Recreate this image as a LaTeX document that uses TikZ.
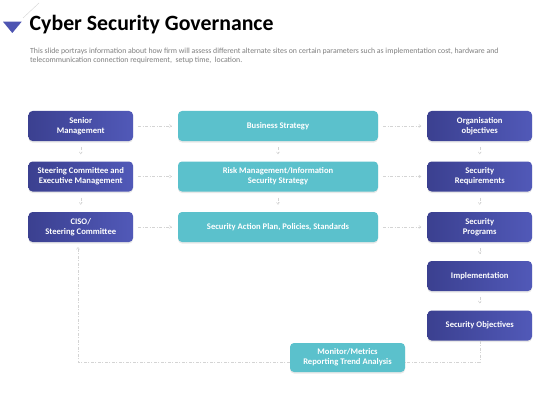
\documentclass[tikz,border=0pt]{standalone}
\usepackage{fontspec}
\setmainfont{Carlito}
\usetikzlibrary{arrows.meta,shadows}
\definecolor{navyL}{HTML}{3B4090}
\definecolor{navyR}{HTML}{5159B8}
\definecolor{tealbox}{HTML}{5BC1CC}
\definecolor{linegray}{HTML}{D4D4D4}
\definecolor{descgray}{HTML}{7F7F7F}
\tikzset{
  boxbase/.style={rounded corners=4pt, minimum height=30pt, inner sep=1pt, align=center,
    text=white, font=\fontsize{8.6}{10}\selectfont\bfseries,
    drop shadow={opacity=0.18, shadow xshift=0pt, shadow yshift=-1.5pt}},
  navybox/.style={boxbase, left color=navyL, right color=navyR, minimum width=104.5pt},
  tealnode/.style={boxbase, fill=tealbox, minimum width=200pt},
  conn/.style={draw=linegray, line width=0.5pt, dash pattern=on 3pt off 1.5pt on 1pt off 1.5pt,
    -{Straight Barb[length=2pt,width=3pt]}},
  feed/.style={draw=linegray, line width=0.5pt, dash pattern=on 3pt off 1.5pt on 1pt off 1.5pt},
}
\begin{document}
\begin{tikzpicture}[x=1pt,y=-1pt]
\useasboundingbox[fill=white] (0,0) rectangle (560,420);
% header
\fill[fill=navyR!85!navyL] (3,21.7) -- (21.7,21.7) -- (12.3,33) -- cycle;
\draw[linegray, line width=0.4pt] (23,18) -- (39,3);
\node[anchor=base west, inner sep=0, font=\fontsize{21.8}{24}\selectfont\bfseries] (title) at (29.5,31) {Cyber Security Governance};
\node[anchor=base west, inner sep=0, align=left, text=descgray, font=\fontsize{7.8}{9}\selectfont] (desc) at (30,62.5)
  {This slide portrays information about how firm will assess different alternate sites on certain parameters such as implementation cost, hardware and\\
   telecommunication connection requirement,\ \ setup time,\ \ location.};
% left column
\node[navybox] (sm) at (80.75,126) {Senior\\Management};
\node[navybox] (sc) at (80.75,176.5) {Steering Committee and\\Executive Management};
\node[navybox] (ciso) at (80.75,227) {CISO/\\Steering Committee};
% middle column
\node[tealnode] (bs) at (278,126) {Business Strategy};
\node[tealnode] (rm) at (278,176.5) {Risk Management/Information\\Security Strategy};
\node[tealnode] (sa) at (278,227) {Security Action Plan, Policies, Standards};
% right column
\node[navybox] (oo) at (479.75,126) {Organisation\\objectives};
\node[navybox] (sr) at (479.75,176.5) {Security\\Requirements};
\node[navybox] (sp) at (479.75,227) {Security\\Programs};
\node[navybox] (im) at (479.75,276) {Implementation};
\node[navybox] (so) at (479.75,325.5) {Security Objectives};
% monitor
\node[tealnode, minimum width=115pt, minimum height=29pt] (mon) at (347.5,357.5) {Monitor/Metrics\\Reporting Trend Analysis};
% horizontal connectors
\foreach \a/\b in {sm/bs, sc/rm, ciso/sa, bs/oo, rm/sr, sa/sp}
  \draw[conn, shorten <=5pt, shorten >=6pt] (\a.east) -- (\b.west);
% vertical connectors
\foreach \a/\b in {sm/sc, sc/ciso, bs/rm, rm/sa, oo/sr, sr/sp, sp/im, im/so}
  \draw[conn, shorten <=6pt, shorten >=7pt] (\a.south) -- (\b.north);
% feedback loop
\coordinate (fr) at (479.75,362);
\coordinate (fl) at (78,362);
\coordinate (fu) at (78,242);
\draw[feed] (so.south) -- (fr) -- (mon.east |- fr);
\draw[conn, shorten >=5pt] (mon.west |- fl) -- (fl) -- (fu);
\end{tikzpicture}
\end{document}
